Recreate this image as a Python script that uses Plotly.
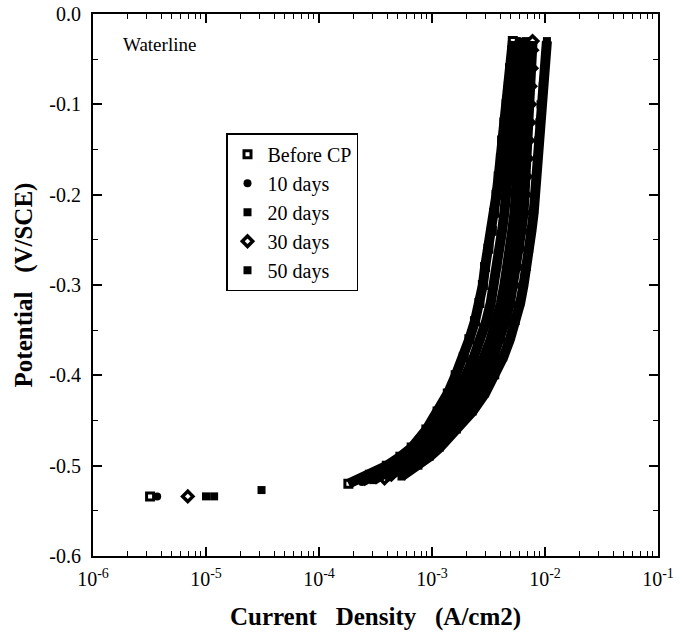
import plotly.graph_objects as go

# ---------------- data ----------------
series_names = ["Before CP", "10 days", "20 days", "30 days", "50 days"]

# isolated open-circuit points (current density A/cm2, potential V/SCE)
ocp_current = {
    "Before CP": [3.2e-6],
    "10 days": [3.7e-6],
    "20 days": [1.0e-5],
    "30 days": [6.9e-6],
    "50 days": [1.18e-5, 3.1e-5],
}
ocp_potential = {
    "Before CP": [-0.534],
    "10 days": [-0.534],
    "20 days": [-0.534],
    "30 days": [-0.534],
    "50 days": [-0.534, -0.527],
}

pot_common = [-0.50, -0.49, -0.48, -0.46, -0.44, -0.42, -0.40, -0.38, -0.36,
              -0.34, -0.32, -0.30, -0.28, -0.26, -0.24, -0.22, -0.20, -0.18,
              -0.16, -0.14, -0.12, -0.10, -0.08, -0.06, -0.04, -0.03]

pot_before = [-0.520, -0.510] + pot_common
cur_before = [1.82e-4, 2.82e-4, 3.98e-4, 5.25e-4, 6.61e-4, 8.91e-4, 1.12e-3, 1.38e-3,
              1.62e-3, 1.91e-3, 2.14e-3, 2.40e-3, 2.63e-3, 2.82e-3, 2.95e-3, 3.16e-3,
              3.39e-3, 3.55e-3, 3.72e-3, 3.89e-3, 4.07e-3, 4.17e-3, 4.37e-3, 4.57e-3,
              4.79e-3, 4.90e-3, 5.13e-3, 5.19e-3]

pot_10 = [-0.518, -0.510] + pot_common
cur_10 = [2.40e-4, 3.16e-4, 4.57e-4, 6.03e-4, 7.59e-4, 1.05e-3, 1.35e-3, 1.66e-3,
          2.00e-3, 2.34e-3, 2.69e-3, 3.02e-3, 3.31e-3, 3.55e-3, 3.80e-3, 3.98e-3,
          4.17e-3, 4.37e-3, 4.57e-3, 4.68e-3, 4.90e-3, 5.01e-3, 5.13e-3, 5.37e-3,
          5.50e-3, 5.62e-3, 5.82e-3, 5.89e-3]

pot_20 = [-0.516, -0.510] + pot_common
cur_20 = [3.02e-4, 3.72e-4, 5.25e-4, 6.92e-4, 8.71e-4, 1.23e-3, 1.62e-3, 2.04e-3,
          2.45e-3, 2.88e-3, 3.31e-3, 3.72e-3, 4.07e-3, 4.37e-3, 4.68e-3, 4.90e-3,
          5.13e-3, 5.37e-3, 5.50e-3, 5.62e-3, 5.75e-3, 5.89e-3, 6.03e-3, 6.17e-3,
          6.31e-3, 6.46e-3, 6.68e-3, 6.76e-3]

pot_30 = [-0.514, -0.510] + pot_common
cur_30 = [3.80e-4, 4.37e-4, 6.17e-4, 8.13e-4, 1.02e-3, 1.45e-3, 1.91e-3, 2.40e-3,
          2.95e-3, 3.47e-3, 3.98e-3, 4.47e-3, 4.90e-3, 5.25e-3, 5.62e-3, 5.89e-3,
          6.17e-3, 6.46e-3, 6.61e-3, 6.76e-3, 6.92e-3, 7.08e-3, 7.24e-3, 7.33e-3,
          7.41e-3, 7.59e-3, 7.67e-3, 7.76e-3]

pot_50 = [-0.512] + pot_common
cur_50 = [5.37e-4, 7.59e-4, 9.55e-4, 1.17e-3, 1.66e-3, 2.29e-3, 2.95e-3, 3.63e-3,
          4.27e-3, 4.90e-3, 5.50e-3, 6.03e-3, 6.46e-3, 6.92e-3, 7.24e-3, 7.59e-3,
          7.94e-3, 8.13e-3, 8.32e-3, 8.51e-3, 8.71e-3, 8.91e-3, 9.12e-3, 9.55e-3,
          1.00e-2, 1.02e-2, 1.04e-2]

curves_cur = {"Before CP": cur_before, "10 days": cur_10, "20 days": cur_20,
              "30 days": cur_30, "50 days": cur_50}
curves_pot = {"Before CP": pot_before, "10 days": pot_10, "20 days": pot_20,
              "30 days": pot_30, "50 days": pot_50}

x_tick_vals = [1e-6, 1e-5, 1e-4, 1e-3, 1e-2, 1e-1]
x_tick_text = ["10<sup>-6</sup>", "10<sup>-5</sup>", "10<sup>-4</sup>",
               "10<sup>-3</sup>", "10<sup>-2</sup>", "10<sup>-1</sup>"]
y_tick_vals = [0.0, -0.1, -0.2, -0.3, -0.4, -0.5, -0.6]
y_tick_text = ["0.0", "-0.1", "-0.2", "-0.3", "-0.4", "-0.5", "-0.6"]

# ---------------- styling ----------------
FONT = "Liberation Serif, Times New Roman, serif"
symbols = {
    "Before CP": dict(symbol="square-open", size=7, color="black", line=dict(color="black", width=3)),
    "10 days": dict(symbol="circle", size=8, color="black", line=dict(color="black", width=0)),
    "20 days": dict(symbol="square", size=8, color="black", line=dict(color="black", width=0)),
    "30 days": dict(symbol="diamond-open", size=8, color="black", line=dict(color="black", width=3.5)),
    "50 days": dict(symbol="square", size=8, color="black", line=dict(color="black", width=0)),
}

fig = go.Figure()

# thick bands standing for the dense marker trails of each sweep
for name in series_names:
    fig.add_trace(go.Scatter(
        x=curves_cur[name], y=curves_pot[name], mode="lines",
        line=dict(color="black", width=10), showlegend=False, hoverinfo="skip"))

for i, name in enumerate(series_names):
    fig.add_trace(go.Scatter(
        x=ocp_current[name] + curves_cur[name],
        y=ocp_potential[name] + curves_pot[name],
        mode="markers", name=name, legendgroup=f"g{i}",
        marker=symbols[name]))

minor_x = [m * 10.0 ** e for e in range(-6, -1) for m in range(2, 10)]

fig.update_layout(
    width=682, height=637,
    margin=dict(l=93, r=24, t=14, b=81),
    plot_bgcolor="white", paper_bgcolor="white",
    font=dict(family=FONT, size=20, color="black"),
    showlegend=True,
    legend=dict(
        x=0.2354, y=0.78, xanchor="left", yanchor="top",
        bgcolor="white", bordercolor="black", borderwidth=1.5,
        font=dict(family=FONT, size=20, color="black"),
        tracegroupgap=0, itemwidth=30,
    ),
    xaxis=dict(
        type="log", range=[-6, -1], automargin=False,
        tickvals=x_tick_vals, ticktext=x_tick_text,
        ticks="inside", ticklen=9, tickwidth=1.5, tickcolor="black",
        minor=dict(tickvals=minor_x, ticks="inside", ticklen=5, tickwidth=1, tickcolor="black", showgrid=False),
        showline=True, linecolor="black", linewidth=2, mirror="ticks",
        showgrid=False, zeroline=False,
        tickfont=dict(family=FONT, size=20),
        ticklabelstandoff=4,
        title=dict(text="<b>Current\u00a0\u00a0 Density\u00a0\u00a0 (A/cm2)</b>", font=dict(family=FONT, size=25), standoff=18),
    ),
    yaxis=dict(
        range=[-0.6, 0.0], automargin=False,
        tickvals=y_tick_vals, ticktext=y_tick_text,
        ticks="inside", ticklen=9, tickwidth=1.5, tickcolor="black",
        minor=dict(dtick=0.05, ticks="inside", ticklen=5, tickwidth=1, tickcolor="black", showgrid=False),
        showline=True, linecolor="black", linewidth=2, mirror="ticks",
        showgrid=False, zeroline=False,
        tickfont=dict(family=FONT, size=20),
        ticklabelstandoff=6,
        title=dict(text="<b>Potential\u00a0\u00a0 (V/SCE)</b>", font=dict(family=FONT, size=25), standoff=10),
    ),
    annotations=[dict(
        text="Waterline", x=0.05, y=0.944, xref="paper", yref="paper",
        xanchor="left", yanchor="middle", showarrow=False,
        font=dict(family=FONT, size=19, color="black"))],
)

fig.write_html("out.html")
